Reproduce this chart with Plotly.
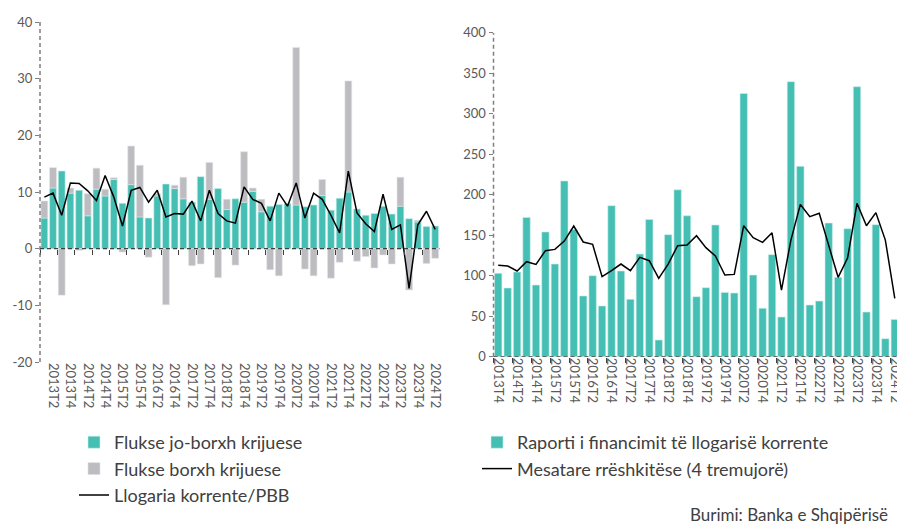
import plotly.graph_objects as go

# categories
quarters_left = [f"{y}T{q}" for y in range(2013, 2025) for q in range(1, 5)][:46]   # 2013T1 .. 2024T2
quarters_right = quarters_left[3:]                                               # 2013T4 .. 2024T2
ticks_left = quarters_left[1::2]
ticks_right = quarters_right[0::2]
ytick_vals_left = [-20, -10, 0, 10, 20, 30, 40]
ytick_text_left = ["-20", "-10", "0", "10", "20", "30", "40"]

# left panel: flows as % of GDP
jo_borxh = [5.4, 10.7, 13.7, 9.8, 10.3, 5.8, 10.5, 9.3, 12.2, 8.0, 11.3, 5.6, 5.4, 9.3, 11.4, 10.6,
            8.8, 8.2, 12.7, 8.7, 10.6, 6.9, 8.8, 8.2, 10.1, 6.5, 7.5, 7.8, 8.0, 7.7, 7.4, 7.7,
            9.4, 6.8, 8.9, 10.0, 7.0, 5.9, 6.2, 7.5, 6.1, 7.5, 5.3, 4.7, 3.9, 4.0]
borxh = [3.0, 3.6, -8.2, 0.9, -0.3, 3.9, 3.7, 1.2, 0.3, -0.6, 6.8, 9.1, -1.5, 0.4, -9.9, 0.6,
         3.8, -3.0, -2.7, 6.5, -5.1, 1.8, -2.9, 8.9, 0.6, 2.2, -3.7, -4.8, 0.0, 27.8, -3.6, -4.8,
         2.8, -5.2, -2.4, 19.6, -2.2, -1.4, -3.4, -1.1, -2.7, 5.1, -7.3, 0.3, -2.6, -1.7]
llogaria = [9.1, 9.8, 5.9, 11.6, 11.5, 10.2, 8.5, 12.9, 9.1, 4.0, 10.3, 10.8, 8.2, 10.3, 5.6, 6.2,
            6.1, 8.4, 4.9, 10.3, 6.2, 4.9, 4.5, 10.9, 8.7, 8.0, 4.9, 9.8, 7.5, 11.6, 5.4, 9.8,
            8.7, 5.9, 2.8, 13.7, 6.3, 4.4, 3.0, 9.6, 3.4, 4.2, -7.0, 4.2, 6.6, 3.4]

# right panel: financing ratio (%)
raporti = [102.9, 84.8, 104.5, 172, 88.5, 154, 114.4, 217, 157, 75, 100, 62.6, 186.4, 105.8, 70.8,
           126.7, 169.5, 20.6, 150.6, 206, 174, 74, 85.2, 162.6, 79.4, 78.6, 325, 100.8, 59.7, 126,
           49, 339.5, 235, 63.8, 68.7, 165, 98, 158, 333.3, 55.1, 163, 22.2, 46]
mesatare = [112.8, 112, 105.8, 117.3, 114, 130.9, 132.5, 142.8, 161.3, 141.6, 138.7, 98.8, 106.2,
            114.4, 106.2, 122.6, 118.5, 96.7, 114.4, 137, 137.9, 149.4, 134.6, 124.3, 100.8, 101.6,
            161.7, 146.9, 141.2, 153, 82.3, 144, 188, 172.8, 177, 135.8, 98, 121.8, 189.3, 161.7,
            177.8, 144, 72]

TEAL = "#45bfb3"
GREY = "#bdbdc1"
AXIS_GREY = "#7f7f7f"
TXT = "#595959"
FONT = "Lato"

# page body adds an 8px margin, so the figure is sized and positioned to fit inside the window
PAD = 8
W, H = 905 - PAD, 527 - PAD


def px_x(p):
    return (p - PAD) / W


def px_y(p):
    return 1 - (p - PAD) / H


fig = go.Figure()

fig.add_bar(x=quarters_left, y=jo_borxh, name="Flukse jo-borxh krijuese", marker_color=TEAL,
            marker_line=dict(color="#c9eeea", width=0.6), legend="legend")
fig.add_bar(x=quarters_left, y=borxh, name="Flukse borxh krijuese", marker_color=GREY,
            marker_line=dict(color="#e2e2e4", width=0.6), legend="legend")
fig.add_scatter(x=quarters_left, y=llogaria, mode="lines", name="Llogaria korrente/PBB",
                line=dict(color="black", width=1.5), legend="legend")

fig.add_bar(x=quarters_right, y=raporti, name="Raporti i financimit të llogarisë korrente",
            marker_color=TEAL, marker_line=dict(color="#c9eeea", width=0.6),
            xaxis="x2", yaxis="y2", legend="legend2")
fig.add_scatter(x=quarters_right, y=mesatare, mode="lines", name="Mesatare rrëshkitëse (4 tremujorë)",
                line=dict(color="black", width=1.5), xaxis="x2", yaxis="y2", legend="legend2")

# invisible helpers so the tick-only axes get drawn
fig.add_scatter(x=quarters_left, y=llogaria, mode="lines", opacity=0, showlegend=False,
                hoverinfo="skip", xaxis="x3", yaxis="y")
fig.add_scatter(x=quarters_right, y=mesatare, mode="lines", opacity=0, showlegend=False,
                hoverinfo="skip", xaxis="x4", yaxis="y2")

left_dom = [px_x(40), px_x(439.5)]
right_dom = [px_x(493.5), px_x(899.5)]
left_ydom = [px_y(362), px_y(22)]
right_ydom = [px_y(356.7), px_y(32.7)]
zero_pos = left_ydom[0] + (left_ydom[1] - left_ydom[0]) * 20 / 60

tickfont = dict(family=FONT, size=13, color=TXT)
xcommon = dict(type="category", showgrid=False, zeroline=False, showline=False, automargin=False)

fig.update_layout(
    width=W, height=H,
    margin=dict(l=0, r=0, t=0, b=0),
    paper_bgcolor="white", plot_bgcolor="white",
    barmode="relative", bargap=0.22,
    showlegend=True,
    font=dict(family=FONT, color="#404040"),
    xaxis=dict(**xcommon, domain=left_dom, anchor="y", range=[-0.5, 45.5],
               categoryarray=quarters_left, tickvals=ticks_left, tickangle=90,
               ticks="", tickfont=tickfont),
    xaxis3=dict(**xcommon, domain=left_dom, overlaying="x", anchor="free", position=zero_pos,
                range=[-0.5, 45.5], categoryarray=quarters_left, showticklabels=False,
                ticks="outside", tickson="boundaries", ticklen=5, tickcolor="#404040", tickwidth=1),
    yaxis=dict(domain=left_ydom, anchor="x", range=[-20, 40], tickvals=ytick_vals_left,
               ticktext=ytick_text_left, showgrid=False, zeroline=False, showline=False,
               automargin=False, ticks="outside", ticklen=4, tickcolor=AXIS_GREY, tickfont=tickfont),
    xaxis2=dict(**xcommon, domain=right_dom, anchor="y2", range=[-0.5, 42.5],
                categoryarray=quarters_right, tickvals=ticks_right, tickangle=90,
                ticks="", tickfont=tickfont),
    xaxis4=dict(**xcommon, domain=right_dom, overlaying="x2", anchor="y2",
                range=[-0.5, 42.5], categoryarray=quarters_right, showticklabels=False,
                ticks="outside", tickson="boundaries", ticklen=5, tickcolor="#404040", tickwidth=1),
    yaxis2=dict(domain=right_ydom, anchor="x2", range=[0, 400], dtick=50,
                showgrid=False, zeroline=False, showline=False, automargin=False,
                ticks="outside", ticklen=4, tickcolor=AXIS_GREY, tickfont=tickfont),
    legend=dict(x=px_x(74), y=px_y(424), xanchor="left", yanchor="top",
                bgcolor="rgba(0,0,0,0)", traceorder="normal", tracegroupgap=0,
                itemwidth=30, font=dict(family=FONT, size=18, color="#404040")),
    legend2=dict(x=px_x(477), y=px_y(424), xanchor="left", yanchor="top",
                 bgcolor="rgba(0,0,0,0)", traceorder="normal", tracegroupgap=0,
                 itemwidth=30, font=dict(family=FONT, size=18, color="#404040")),
)

dash_axis = dict(color=AXIS_GREY, width=1.5, dash="4px,3px")
dash_zero = dict(color="#404040", width=1.2, dash="4px,3px")
fig.add_shape(type="line", xref="x domain", yref="y", x0=0, x1=0, y0=-20, y1=40, line=dash_axis)
fig.add_shape(type="line", xref="x domain", yref="y", x0=0, x1=1, y0=0, y1=0, line=dash_zero)
fig.add_shape(type="line", xref="x2 domain", yref="y2", x0=0, x1=0, y0=0, y1=400, line=dash_axis)
fig.add_shape(type="line", xref="x2 domain", yref="y2", x0=0, x1=1, y0=0, y1=0, line=dash_zero)

fig.add_annotation(text="Burimi: Banka e Shqipërisë", xref="paper", yref="paper",
                   x=px_x(688), y=px_y(514), xanchor="left", yanchor="middle", showarrow=False,
                   font=dict(family=FONT, size=17, color="#404040"))

fig.write_html("out.html")
